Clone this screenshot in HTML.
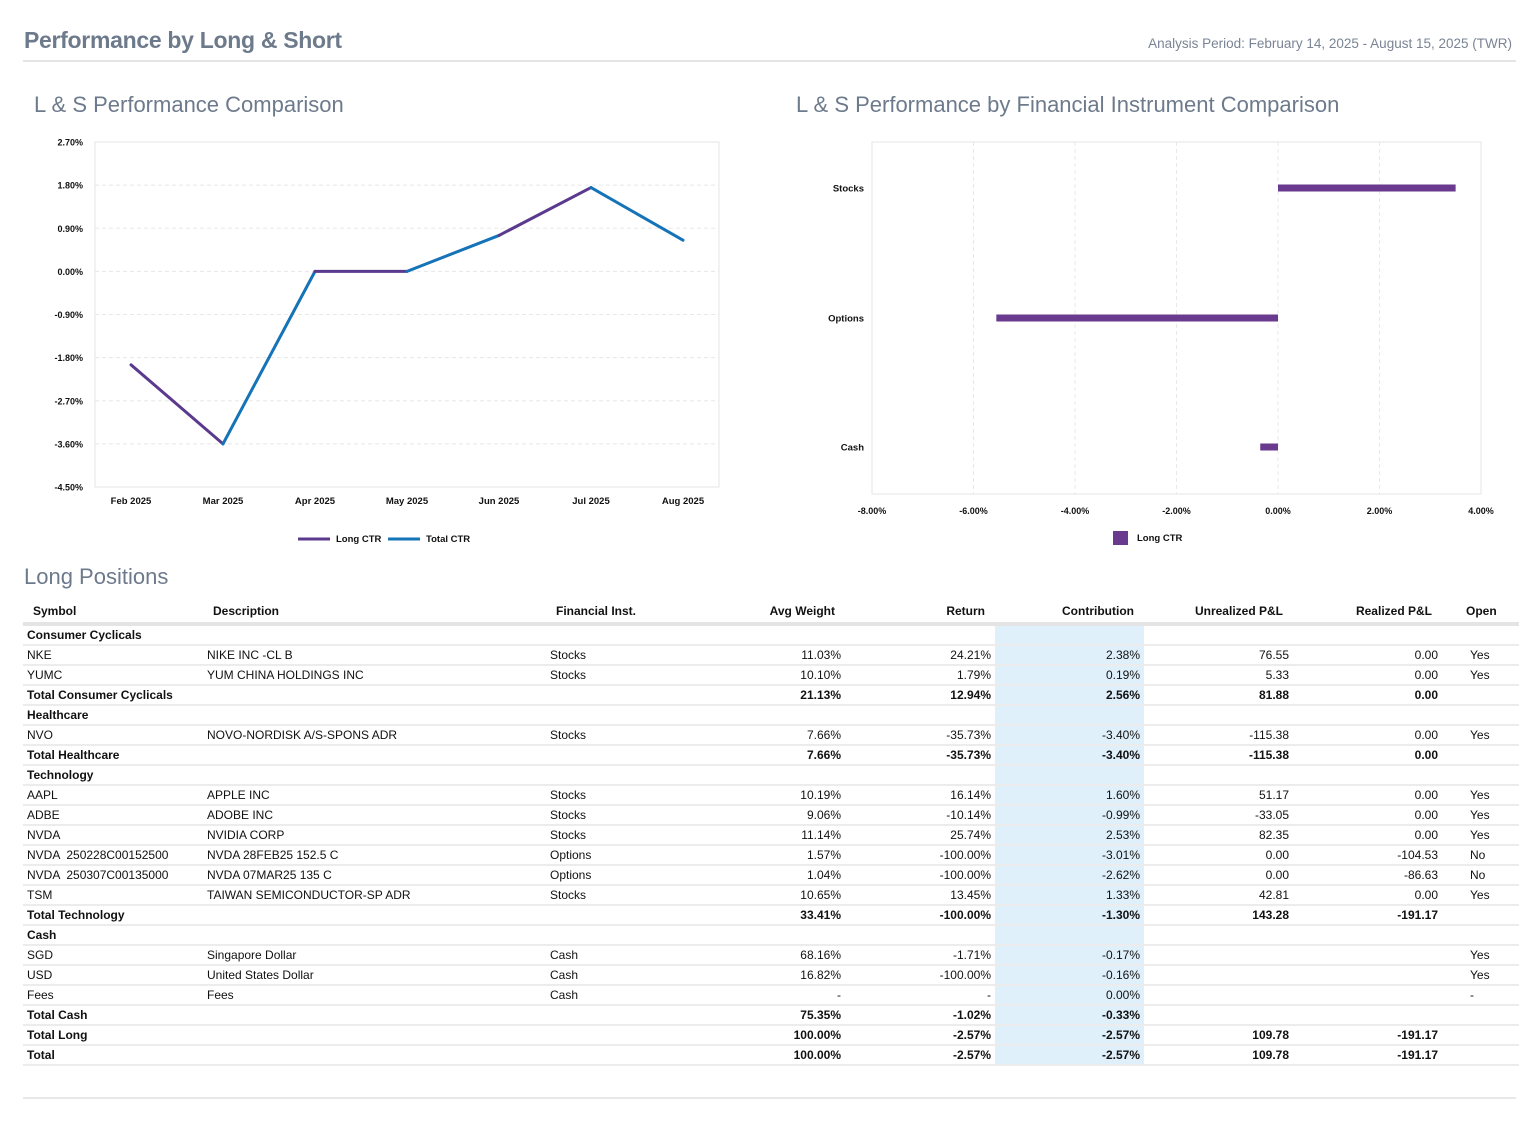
<!DOCTYPE html>
<html><head><meta charset="utf-8"><style>
body{margin:0;width:1537px;height:1124px;background:#fff;font-family:"Liberation Sans",sans-serif;position:relative;overflow:hidden}
.abs{position:absolute}
.h1{left:24px;top:27px;font-size:23px;color:#6d7a8c;font-weight:bold;letter-spacing:-0.3px}
.period{right:25px;top:36px;font-size:13.5px;color:#7a8494}
.h2{font-size:22px;color:#6d7a8c;top:92px}
table{position:absolute;left:23px;top:600px;border-collapse:collapse;table-layout:fixed;font-size:12px;color:#111}
td,th{height:18px;padding:0 4px;white-space:pre;border-bottom:2px solid #ececec;overflow:hidden}
th{font-weight:bold;height:22px;border-bottom:4px solid #e4e4e4;text-align:right;padding-right:10px}
td.n{text-align:right}
td.c{background:#dff0fb}
tr.b td{font-weight:bold}
svg text{font-family:"Liberation Sans",sans-serif}
</style></head><body>
<div class="abs h1">Performance by Long &amp; Short</div>
<div class="abs period">Analysis Period: February 14, 2025 - August 15, 2025 (TWR)</div>
<div class="abs" style="left:23px;top:60px;width:1493px;height:2px;background:#e4e4e4"></div>
<div class="abs h2" style="left:34px">L &amp; S Performance Comparison</div>
<div class="abs h2" style="left:796px">L &amp; S Performance by Financial Instrument Comparison</div>
<svg id="lc" class="abs" style="left:0;top:0" width="760" height="560"></svg>
<svg id="bc" class="abs" style="left:0;top:0;left:760px" width="777" height="560"></svg>
<div class="abs" style="left:24px;top:564px;font-size:22px;color:#6d7a8c">Long Positions</div>
<table>
<colgroup><col style="width:180px"><col style="width:343px"><col style="width:154px"><col style="width:145px"><col style="width:150px"><col style="width:149px"><col style="width:149px"><col style="width:149px"><col style="width:77px"></colgroup>
<tr><th style="text-align:left;padding-left:10px">Symbol</th><th style="text-align:left;padding-left:10px">Description</th><th style="text-align:left;padding-left:10px">Financial Inst.</th><th>Avg Weight</th><th>Return</th><th>Contribution</th><th>Unrealized P&amp;L</th><th>Realized P&amp;L</th><th style="text-align:left;padding-left:24px">Open</th></tr>
<tbody id="tb"></tbody>
</table>
<div class="abs" style="left:23px;top:1097px;width:1493px;height:2px;background:#e8e8e8"></div>
<script>
// ---- line chart data
const months=["Feb 2025","Mar 2025","Apr 2025","May 2025","Jun 2025","Jul 2025","Aug 2025"];
const longCtr=[-1.95,-3.6,0,0,0.75,1.75,0.65];
const totalCtr=[-1.95,-3.6,0,0,0.75,1.75,0.65];
const yTicks=[2.7,1.8,0.9,0,-0.9,-1.8,-2.7,-3.6,-4.5];
// ---- bar chart data
const instruments=["Stocks","Options","Cash"];
const instLong=[3.5,-5.55,-0.35];
const xTicks=[-8,-6,-4,-2,0,2,4];
const NS="http://www.w3.org/2000/svg";
function mk(p,t,a){const e=document.createElementNS(NS,t);for(const k in a)e.setAttribute(k,a[k]);p.appendChild(e);return e;}
// line chart
(function(){
const s=document.getElementById('lc');
const L=95,R=719,T=142,B=487;
const y=v=>T+(2.7-v)/7.2*(B-T);
const x=i=>131+i*(683-131)/(months.length-1);
let r=mk(s,'rect',{x:L,y:T,width:R-L,height:B-T,fill:'none',stroke:'#e6e6e6'});


yTicks.forEach(v=>{
 if(v<2.7&&v>-4.5){let g=mk(s,'line',{x1:L,x2:R,y1:y(v),y2:y(v),stroke:'#e8e8e8','stroke-dasharray':'4 3'});
 }
 let t=mk(s,'text',{x:83,y:y(v)+3.5,'text-anchor':'end','font-size':9,'font-weight':'bold',fill:'#111'});t.textContent=v.toFixed(2)+'%';
 
});
months.forEach((m,i)=>{let t=mk(s,'text',{x:x(i),y:504,'text-anchor':'middle','font-size':9.5,'font-weight':'bold',fill:'#111'});t.textContent=m;
 });
for(let i=0;i<months.length-1;i++){
 const even=i%2===0;const d=even?longCtr:totalCtr;
 let l=mk(s,'line',{x1:x(i),y1:y(d[i]),x2:x(i+1),y2:y(d[i+1]),stroke:even?'#5b3a8e':'#1573b8','stroke-width':3,'stroke-linecap':'round'});
 
 
}
let a=mk(s,'line',{x1:298,x2:330,y1:539,y2:539,stroke:'#5b3a8e','stroke-width':3});

let at=mk(s,'text',{x:336,y:542,'font-size':9.5,'font-weight':'bold',fill:'#111'});at.textContent='Long CTR';

let b=mk(s,'line',{x1:388,x2:420,y1:539,y2:539,stroke:'#1573b8','stroke-width':3});

let bt=mk(s,'text',{x:426,y:542,'font-size':9.5,'font-weight':'bold',fill:'#111'});bt.textContent='Total CTR';

})();
// bar chart
(function(){
const s=document.getElementById('bc');const o=760;
const L=872-o,R=1481-o,T=142,B=494;
const x=v=>L+(v+8)/12*(R-L);
const yc=[188,318,447];
let r=mk(s,'rect',{x:L,y:T,width:R-L,height:B-T,fill:'none',stroke:'#e6e6e6'});

xTicks.forEach(v=>{
 if(v>-8&&v<4){let g=mk(s,'line',{x1:x(v),x2:x(v),y1:T,y2:B,stroke:'#e8e8e8','stroke-dasharray':'4 3'});
 }
 let t=mk(s,'text',{x:x(v),y:514,'text-anchor':'middle','font-size':9,'font-weight':'bold',fill:'#111'});t.textContent=v.toFixed(2)+'%';
 
});
instruments.forEach((n,i)=>{
 let t=mk(s,'text',{x:L-8,y:yc[i]+3.5,'text-anchor':'end','font-size':9.5,'font-weight':'bold',fill:'#111'});t.textContent=n;
 
 const v=instLong[i];
 let bar=mk(s,'rect',{x:Math.min(x(0),x(v)),y:yc[i]-3.5,width:Math.abs(x(v)-x(0)),height:7,fill:'#6a3a8e'});
 
});
let sw=mk(s,'rect',{x:1113-o,y:531,width:15,height:14,fill:'#6a3a8e'});

let lt=mk(s,'text',{x:1137-o,y:541,'font-size':9.5,'font-weight':'bold',fill:'#111'});lt.textContent='Long CTR';

})();
// table
const rows=[
["g","Consumer Cyclicals"],
["r","NKE","NIKE INC -CL B","Stocks","11.03%","24.21%","2.38%","76.55","0.00","Yes"],
["r","YUMC","YUM CHINA HOLDINGS INC","Stocks","10.10%","1.79%","0.19%","5.33","0.00","Yes"],
["t","Total Consumer Cyclicals","","","21.13%","12.94%","2.56%","81.88","0.00",""],
["g","Healthcare"],
["r","NVO","NOVO-NORDISK A/S-SPONS ADR","Stocks","7.66%","-35.73%","-3.40%","-115.38","0.00","Yes"],
["t","Total Healthcare","","","7.66%","-35.73%","-3.40%","-115.38","0.00",""],
["g","Technology"],
["r","AAPL","APPLE INC","Stocks","10.19%","16.14%","1.60%","51.17","0.00","Yes"],
["r","ADBE","ADOBE INC","Stocks","9.06%","-10.14%","-0.99%","-33.05","0.00","Yes"],
["r","NVDA","NVIDIA CORP","Stocks","11.14%","25.74%","2.53%","82.35","0.00","Yes"],
["r","NVDA  250228C00152500","NVDA 28FEB25 152.5 C","Options","1.57%","-100.00%","-3.01%","0.00","-104.53","No"],
["r","NVDA  250307C00135000","NVDA 07MAR25 135 C","Options","1.04%","-100.00%","-2.62%","0.00","-86.63","No"],
["r","TSM","TAIWAN SEMICONDUCTOR-SP ADR","Stocks","10.65%","13.45%","1.33%","42.81","0.00","Yes"],
["t","Total Technology","","","33.41%","-100.00%","-1.30%","143.28","-191.17",""],
["g","Cash"],
["r","SGD","Singapore Dollar","Cash","68.16%","-1.71%","-0.17%","","","Yes"],
["r","USD","United States Dollar","Cash","16.82%","-100.00%","-0.16%","","","Yes"],
["r","Fees","Fees","Cash","-","-","0.00%","","","-"],
["t","Total Cash","","","75.35%","-1.02%","-0.33%","","",""],
["t","Total Long","","","100.00%","-2.57%","-2.57%","109.78","-191.17",""],
["t","Total","","","100.00%","-2.57%","-2.57%","109.78","-191.17",""]];
const tb=document.getElementById('tb');
rows.forEach(r=>{
 const tr=document.createElement('tr');
 
 
 let cells;
 if(r[0]==='g'){tr.className='b';cells=[r[1],'','','','','','','',''];}
 else{if(r[0]==='t')tr.className='b';cells=r.slice(1);}
 cells.forEach((c,i)=>{const td=document.createElement('td');td.textContent=c;
  if(i>=3&&i<=7)td.className='n';if(i===5)td.className='n c';
  if(i===8)td.style.paddingLeft='28px';
  tr.appendChild(td);});
 tb.appendChild(tr);
});
</script>
</body></html>
